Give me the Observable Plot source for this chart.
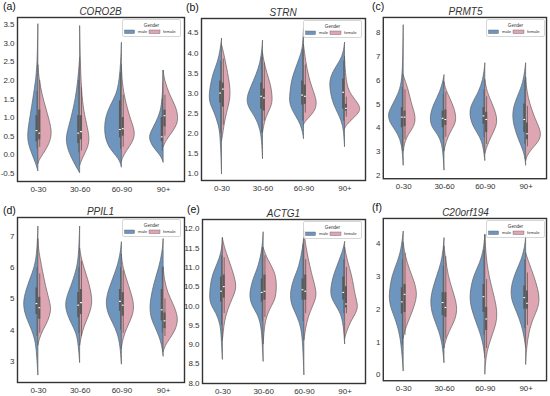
<!DOCTYPE html>
<html><head><meta charset="utf-8">
<script src="https://cdn.jsdelivr.net/npm/d3@7"></script>
<script src="https://cdn.jsdelivr.net/npm/@observablehq/plot@0.6"></script>
<style>
body{margin:0;background:#fff;font-family:"Liberation Sans",Arial,sans-serif;}
#root{position:relative;width:550px;height:396px;overflow:hidden;background:#fff;}
.panel{position:absolute;}
.tag{position:absolute;font-size:10.5px;color:#111;line-height:1;}
.title{position:absolute;font-style:italic;font-size:10px;color:#333;text-align:center;line-height:1;}
.legend{position:absolute;}
</style>
</head><body><div id="root"></div>
<script>
// ---------- data ----------
const categories = ["0-30", "30-60", "60-90", "90+"];
const genders = ["male", "female"];
const genes = ["CORO2B", "STRN", "PRMT5", "PPIL1", "ACTG1", "C20orf194"];
const panelTags = ["(a)", "(b)", "(c)", "(d)", "(e)", "(f)"];

// y tick labels per panel
const ticksA = [-0.5, 0, 0.5, 1, 1.5, 2, 2.5, 3, 3.5];
const ticksB = [1, 1.5, 2, 2.5, 3, 3.5, 4, 4.5];
const ticksC = [2, 3, 4, 5, 6, 7, 8];
const ticksD = [3, 4, 5, 6, 7];
const ticksE = [8, 8.5, 9, 9.5, 10, 10.5, 11, 11.5, 12];
const ticksF = [0, 1, 2, 3, 4];

// violin half profiles: [expression value, half width in category units], top to bottom
const coro2bMale = [
  [[3.5,0],[2.5,0.015],[2.0,0.05],[1.5,0.12],[1.0,0.19],[0.6,0.25],[0.3,0.24],[0.0,0.14],[-0.25,0.05],[-0.45,0]],
  [[2.6,0],[2.0,0.04],[1.5,0.1],[1.0,0.2],[0.6,0.3],[0.4,0.33],[0.1,0.28],[-0.2,0.15],[-0.5,0]],
  [[3.0,0],[2.5,0.015],[2.0,0.05],[1.6,0.12],[1.3,0.28],[1.0,0.38],[0.7,0.41],[0.4,0.38],[0.15,0.28],[-0.05,0.12],[-0.2,0.03],[-0.35,0]],
  [[2.25,0],[1.8,0.01],[1.4,0.03],[1.1,0.08],[0.85,0.18],[0.6,0.3],[0.45,0.34],[0.25,0.28],[0.05,0.13],[-0.1,0.03],[-0.22,0]]
];
const coro2bFemale = [
  [[2.4,0],[2.0,0.03],[1.6,0.1],[1.2,0.2],[0.8,0.3],[0.55,0.33],[0.3,0.28],[0.0,0.12],[-0.15,0.03],[-0.25,0]],
  [[3.45,0],[2.5,0.015],[1.8,0.04],[1.3,0.08],[1.0,0.13],[0.6,0.21],[0.4,0.23],[0.2,0.2],[0.0,0.11],[-0.2,0.03],[-0.3,0]],
  [[2.4,0],[1.9,0.02],[1.5,0.08],[1.0,0.2],[0.7,0.3],[0.5,0.32],[0.3,0.25],[0.1,0.12],[-0.1,0.02],[-0.2,0]],
  [[2.25,0],[2.0,0.03],[1.6,0.15],[1.3,0.3],[1.0,0.36],[0.8,0.33],[0.6,0.22],[0.4,0.08],[0.2,0]]
];
const strnMale = [
  [[4.35,0],[4.0,0.04],[3.7,0.12],[3.5,0.2],[3.25,0.26],[3.0,0.3],[2.75,0.3],[2.5,0.17],[2.2,0.08],[2.0,0.04],[1.5,0.015],[0.97,0]],
  [[4.3,0],[3.9,0.03],[3.6,0.1],[3.3,0.22],[3.0,0.35],[2.8,0.39],[2.6,0.33],[2.4,0.18],[2.1,0.06],[1.8,0.02],[1.35,0]],
  [[4.6,0],[4.2,0.02],[4.0,0.05],[3.6,0.2],[3.3,0.3],[3.0,0.33],[2.8,0.35],[2.6,0.3],[2.4,0.18],[2.2,0.07],[2.0,0.02],[1.85,0]],
  [[4.25,0],[3.9,0.04],[3.6,0.25],[3.3,0.38],[3.0,0.34],[2.8,0.3],[2.6,0.22],[2.4,0.12],[2.2,0.05],[2.0,0.02],[1.65,0]]
];
const strnFemale = [
  [[4.2,0],[4.0,0.05],[3.6,0.13],[3.2,0.2],[3.0,0.21],[2.8,0.2],[2.5,0.12],[2.2,0.06],[1.9,0.02],[1.8,0]],
  [[4.0,0],[3.8,0.03],[3.5,0.1],[3.2,0.2],[2.9,0.24],[2.7,0.23],[2.5,0.13],[2.3,0.05],[2.0,0]],
  [[4.2,0],[3.8,0.05],[3.4,0.12],[3.0,0.25],[2.8,0.32],[2.6,0.3],[2.45,0.2],[2.3,0.05],[2.2,0]],
  [[3.9,0],[3.5,0.02],[3.1,0.07],[2.9,0.2],[2.7,0.35],[2.6,0.38],[2.5,0.35],[2.35,0.2],[2.2,0.05],[2.1,0]]
];
const prmt5Male = [
  [[8.3,0],[7.0,0.01],[6.0,0.03],[5.5,0.1],[5.0,0.25],[4.7,0.34],[4.5,0.37],[4.2,0.33],[3.9,0.2],[3.5,0.07],[3.0,0.02],[2.4,0]],
  [[6.2,0],[6.0,0.02],[5.5,0.1],[5.0,0.25],[4.6,0.33],[4.3,0.34],[4.0,0.3],[3.7,0.15],[3.3,0.05],[2.8,0.02],[2.2,0]],
  [[6.7,0],[6.5,0.01],[6.0,0.05],[5.5,0.15],[5.0,0.32],[4.7,0.37],[4.4,0.36],[4.0,0.28],[3.6,0.12],[3.2,0.04],[2.6,0]],
  [[6.7,0],[6.0,0.05],[5.5,0.15],[5.0,0.28],[4.5,0.33],[4.0,0.28],[3.5,0.18],[3.0,0.05],[2.6,0.01],[2.4,0]]
];
const prmt5Female = [
  [[6.2,0],[6.0,0.04],[5.6,0.12],[5.0,0.2],[4.6,0.28],[4.3,0.3],[4.0,0.25],[3.7,0.12],[3.4,0.04],[3.0,0]],
  [[5.9,0],[5.6,0.04],[5.2,0.15],[4.8,0.25],[4.4,0.3],[4.1,0.26],[3.8,0.15],[3.4,0.05],[3.0,0]],
  [[6.0,0],[5.5,0.05],[5.0,0.18],[4.6,0.27],[4.3,0.3],[4.0,0.27],[3.6,0.15],[3.2,0.05],[2.9,0]],
  [[6.1,0],[5.5,0.03],[5.0,0.1],[4.5,0.2],[4.0,0.33],[3.7,0.38],[3.4,0.32],[3.1,0.15],[2.8,0.03],[2.6,0]]
];
const ppil1Male = [
  [[7.3,0],[6.5,0.02],[6.0,0.08],[5.6,0.2],[5.2,0.3],[4.9,0.35],[4.6,0.33],[4.3,0.25],[4.0,0.15],[3.6,0.05],[3.0,0.02],[2.55,0]],
  [[7.3,0],[6.5,0.02],[6.0,0.06],[5.5,0.18],[5.1,0.3],[4.8,0.35],[4.5,0.3],[4.2,0.2],[3.9,0.08],[3.5,0.03],[2.95,0]],
  [[6.8,0],[6.5,0.02],[6.0,0.1],[5.5,0.25],[5.1,0.35],[4.8,0.37],[4.5,0.32],[4.2,0.2],[3.9,0.1],[3.5,0.03],[2.9,0]],
  [[6.9,0],[6.5,0.02],[6.0,0.1],[5.5,0.22],[5.0,0.3],[4.7,0.32],[4.4,0.3],[4.1,0.2],[3.8,0.1],[3.5,0.03],[3.15,0]]
];
const ppil1Female = [
  [[6.9,0],[6.5,0.02],[6.1,0.08],[5.6,0.15],[5.2,0.22],[4.8,0.3],[4.6,0.31],[4.3,0.25],[4.0,0.12],[3.7,0.03],[3.5,0]],
  [[6.6,0],[6.2,0.05],[5.8,0.15],[5.4,0.24],[5.0,0.3],[4.7,0.28],[4.4,0.2],[4.1,0.1],[3.8,0.04],[3.5,0]],
  [[6.4,0],[6.0,0.03],[5.5,0.15],[5.1,0.25],[4.8,0.3],[4.5,0.28],[4.2,0.18],[3.9,0.08],[3.6,0.02],[3.4,0]],
  [[6.0,0],[5.6,0.03],[5.2,0.1],[4.8,0.25],[4.5,0.33],[4.3,0.35],[4.0,0.3],[3.7,0.15],[3.5,0.05],[3.3,0]]
];
const actg1Male = [
  [[11.75,0],[11.4,0.02],[11.1,0.12],[10.8,0.25],[10.5,0.3],[10.2,0.32],[10.0,0.28],[9.8,0.15],[9.5,0.05],[9.2,0.03],[8.6,0]],
  [[11.9,0],[11.5,0.02],[11.0,0.12],[10.7,0.25],[10.4,0.32],[10.2,0.33],[10.0,0.28],[9.8,0.15],[9.5,0.05],[9.0,0.02],[8.55,0]],
  [[11.8,0],[11.5,0.03],[11.0,0.12],[10.7,0.25],[10.4,0.33],[10.1,0.33],[9.9,0.25],[9.6,0.12],[9.3,0.05],[8.8,0.02],[8.2,0]],
  [[11.65,0],[11.4,0.05],[11.0,0.2],[10.7,0.3],[10.4,0.35],[10.2,0.33],[10.0,0.22],[9.8,0.1],[9.5,0.03],[9.0,0]]
];
const actg1Female = [
  [[11.75,0],[11.5,0.05],[11.2,0.15],[10.9,0.25],[10.6,0.33],[10.4,0.33],[10.2,0.25],[9.9,0.13],[9.6,0.05],[9.3,0.02],[9.1,0]],
  [[11.5,0],[11.2,0.1],[10.9,0.28],[10.6,0.33],[10.3,0.32],[10.1,0.27],[9.9,0.15],[9.6,0.05],[9.3,0.02],[9.0,0]],
  [[11.95,0],[11.5,0.05],[11.0,0.15],[10.7,0.22],[10.4,0.3],[10.2,0.3],[10.0,0.22],[9.7,0.1],[9.4,0.04],[9.1,0]],
  [[11.5,0],[11.1,0.08],[10.8,0.17],[10.5,0.22],[10.2,0.27],[10.0,0.33],[9.8,0.28],[9.6,0.15],[9.3,0.04],[9.15,0]]
];
const c20orf194Male = [
  [[4.35,0],[3.8,0.05],[3.4,0.15],[3.0,0.28],[2.6,0.33],[2.3,0.35],[2.0,0.3],[1.7,0.2],[1.3,0.1],[0.8,0.04],[0.1,0]],
  [[4.15,0],[3.8,0.02],[3.4,0.07],[3.0,0.18],[2.6,0.28],[2.3,0.33],[2.0,0.32],[1.7,0.25],[1.3,0.12],[0.9,0.04],[0.35,0]],
  [[4.25,0],[3.8,0.03],[3.4,0.12],[3.0,0.28],[2.6,0.35],[2.3,0.37],[2.0,0.33],[1.6,0.22],[1.2,0.1],[0.9,0.04],[0.5,0]],
  [[4.2,0],[3.9,0.02],[3.5,0.1],[3.1,0.25],[2.8,0.33],[2.5,0.37],[2.2,0.33],[1.9,0.22],[1.5,0.1],[1.1,0.03],[0.8,0]]
];
const c20orf194Female = [
  [[4.0,0],[3.6,0.05],[3.2,0.15],[2.8,0.28],[2.5,0.33],[2.3,0.32],[2.0,0.25],[1.6,0.12],[1.3,0.03],[1.1,0]],
  [[3.9,0],[3.5,0.04],[3.0,0.1],[2.6,0.2],[2.2,0.3],[1.9,0.32],[1.6,0.25],[1.3,0.12],[1.0,0.03],[0.8,0]],
  [[4.25,0],[3.8,0.02],[3.4,0.05],[3.0,0.1],[2.5,0.2],[2.1,0.28],[1.8,0.3],[1.5,0.27],[1.1,0.15],[0.7,0.05],[0.3,0.01],[0.0,0]],
  [[3.7,0],[3.4,0.08],[3.0,0.2],[2.6,0.3],[2.3,0.34],[2.0,0.3],[1.7,0.18],[1.3,0.08],[0.8,0.02],[0.3,0]]
];

// inner box stats per category: [whisker low, q1, median, q3, whisker high]
const coro2bMaleBox = [[0.15,0.35,0.65,1.05,1.7],[0.05,0.3,0.58,1.05,2.0],[0.15,0.45,0.68,1.45,2.2],[0.1,0.35,0.48,1.0,1.5]];
const coro2bFemaleBox = [[0.2,0.4,0.58,1.2,2.0],[0.1,0.4,0.62,1.05,1.8],[0.2,0.5,0.7,1.0,1.6],[0.5,0.75,1.05,1.2,1.6]];
const strnMaleBox = [[2.0,2.75,3.0,3.3,3.8],[2.0,2.6,2.92,3.25,3.9],[2.3,2.7,2.95,3.3,4.1],[2.3,2.6,3.02,3.35,3.8]];
const strnFemaleBox = [[2.2,2.65,3.1,3.25,3.85],[2.3,2.55,2.88,3.1,3.75],[2.5,2.72,2.92,3.2,3.7],[2.4,2.55,2.62,2.72,2.9]];
const prmt5MaleBox = [[3.2,4.0,4.45,4.85,5.7],[3.5,4.0,4.4,4.7,5.4],[3.6,4.15,4.5,4.85,5.6],[3.3,3.8,4.35,5.0,6.0]];
const prmt5FemaleBox = [[3.5,4.05,4.45,4.7,5.6],[3.6,4.1,4.35,4.75,5.5],[3.3,3.8,4.35,4.65,5.3],[3.2,3.5,3.75,4.2,4.9]];
const ppil1MaleBox = [[3.8,4.5,4.85,5.35,6.0],[3.9,4.4,4.8,5.2,6.0],[4.0,4.6,4.92,5.3,6.0],[3.9,4.3,4.65,5.3,6.0]];
const ppil1FemaleBox = [[3.9,4.35,4.72,5.05,5.8],[3.8,4.5,4.88,5.3,6.2],[3.9,4.45,4.8,5.2,5.9],[3.8,4.05,4.3,4.55,5.0]];
const actg1MaleBox = [[9.5,10.1,10.38,10.75,11.3],[9.6,10.1,10.35,10.7,11.5],[9.6,10.15,10.42,10.7,11.6],[9.8,10.15,10.35,10.75,11.2]];
const actg1FemaleBox = [[9.8,10.2,10.5,10.8,11.25],[9.7,10.15,10.38,10.8,11.3],[9.8,10.15,10.38,10.8,11.2],[9.8,9.95,10.05,10.5,11.0]];
const c20orf194MaleBox = [[0.9,1.85,2.22,2.65,3.5],[1.0,1.8,2.2,2.5,3.3],[1.2,1.9,2.38,2.75,3.8],[1.4,2.0,2.35,2.7,3.5]];
const c20orf194FemaleBox = [[1.2,1.9,2.45,2.75,3.7],[1.1,1.75,2.05,2.5,3.6],[0.8,1.35,1.7,2.05,2.9],[1.5,2.0,2.18,2.55,3.1]];

// ---------- styling & layout ----------
const BLUE = "#6e95bd", PINK = "#dea6b2", EDGE = "#606060", BOXC = "#5a5a5a";
const frames = [
  {L:17, T:17, R:184, B:181}, {L:201, T:18, R:365, B:180}, {L:383, T:17, R:548, B:180},
  {L:17, T:217, R:184, B:382}, {L:202, T:219, R:365, B:383}, {L:383, T:218, R:548, B:382}
];
const tagPos = [[3,1],[186,2],[372,1],[3,205],[187,204],[372,202]];
const yDomains = [[-0.72,3.69],[0.82,4.86],[1.86,8.64],[2.33,7.6],[7.99,12.24],[-0.18,4.76]];

const fmt1 = d => d.toFixed(1), fmt0 = d => d.toFixed(0);
const panels = [
  {gene: genes[0], ticks: ticksA, fmt: fmt1, male: coro2bMale, female: coro2bFemale, mBox: coro2bMaleBox, fBox: coro2bFemaleBox},
  {gene: genes[1], ticks: ticksB, fmt: fmt1, male: strnMale, female: strnFemale, mBox: strnMaleBox, fBox: strnFemaleBox},
  {gene: genes[2], ticks: ticksC, fmt: fmt0, male: prmt5Male, female: prmt5Female, mBox: prmt5MaleBox, fBox: prmt5FemaleBox},
  {gene: genes[3], ticks: ticksD, fmt: fmt0, male: ppil1Male, female: ppil1Female, mBox: ppil1MaleBox, fBox: ppil1FemaleBox},
  {gene: genes[4], ticks: ticksE, fmt: fmt1, male: actg1Male, female: actg1Female, mBox: actg1MaleBox, fBox: actg1FemaleBox},
  {gene: genes[5], ticks: ticksF, fmt: fmt0, male: c20orf194Male, female: c20orf194Female, mBox: c20orf194MaleBox, fBox: c20orf194FemaleBox}
];

const root = document.getElementById("root");
const ML = 20, MR = 4, MT = 4, MB = 15;

panels.forEach((p, k) => {
  const f = frames[k];
  const marks = [];
  // violin halves
  p.male.forEach((prof, i) => {
    marks.push(Plot.areaX(prof, {y: d => d[0], x1: d => i - d[1], x2: () => i, fill: BLUE, stroke: EDGE, strokeWidth: 0.7, curve: "basis"}));
  });
  p.female.forEach((prof, i) => {
    marks.push(Plot.areaX(prof, {y: d => d[0], x1: () => i, x2: d => i + d[1], fill: PINK, stroke: EDGE, strokeWidth: 0.7, curve: "basis"}));
  });
  // inner boxes
  [[p.mBox, -1], [p.fBox, 1]].forEach(([boxes, s]) => {
    const rows = boxes.map((b, i) => ({i, lo: b[0], q1: b[1], med: b[2], q3: b[3], hi: b[4]}));
    const a = d => d.i + s * 0.006, b = d => d.i + s * 0.058, c = d => d.i + s * 0.032;
    marks.push(Plot.ruleX(rows, {x: c, y1: "lo", y2: "hi", stroke: BOXC, strokeWidth: 0.8}));
    marks.push(Plot.rect(rows, {x1: d => Math.min(a(d), b(d)), x2: d => Math.max(a(d), b(d)), y1: "q1", y2: "q3", fill: BOXC}));
    marks.push(Plot.ruleY(rows, {y: "med", x1: d => d.i + s * 0.012, x2: d => d.i + s * 0.056, stroke: "#fff", strokeWidth: 1.1}));
  });
  marks.push(Plot.axisY(p.ticks, {tickSize: 0, tickPadding: 3, tickFormat: p.fmt, label: null, fontSize: 8}));
  marks.push(Plot.axisX([0, 1, 2, 3], {tickSize: 0, tickPadding: 5, tickFormat: i => categories[i], label: null, fontSize: 8}));
  marks.push(Plot.frame({stroke: "#333", strokeWidth: 1.4}));

  const W = (f.R - f.L) + ML + MR, H = (f.B - f.T) + MT + MB;
  const chart = Plot.plot({
    width: W, height: H, marginLeft: ML, marginRight: MR, marginTop: MT, marginBottom: MB,
    x: {domain: [-0.5, 3.5]},
    y: {domain: yDomains[k]},
    style: {fontFamily: '"Liberation Sans", Arial, sans-serif', color: "#333", background: "transparent", overflow: "visible"},
    marks
  });
  const wrap = document.createElement("div");
  wrap.className = "panel";
  wrap.style.left = (f.L - ML) + "px";
  wrap.style.top = (f.T - MT) + "px";
  wrap.appendChild(chart);
  root.appendChild(wrap);

  // title
  const t = document.createElement("div");
  t.className = "title";
  t.textContent = p.gene;
  t.style.left = f.L + "px";
  t.style.width = (f.R - f.L) + "px";
  t.style.top = (f.T - 10) + "px";
  root.appendChild(t);

  // panel tag
  const g = document.createElement("div");
  g.className = "tag";
  g.textContent = panelTags[k];
  g.style.left = tagPos[k][0] + "px";
  g.style.top = tagPos[k][1] + "px";
  root.appendChild(g);

  // legend
  const lw = 59, lh = 18;
  const lg = document.createElement("div");
  lg.className = "legend";
  lg.style.left = (f.R - 3 - lw) + "px";
  lg.style.top = (f.T + 2) + "px";
  lg.innerHTML = `<svg width="${lw}" height="${lh}" style="font-family:'Liberation Sans',Arial,sans-serif">
    <rect x="0.5" y="0.5" width="${lw-1}" height="${lh-1}" rx="1.5" fill="#fff" fill-opacity="0.85" stroke="#ccc" stroke-width="0.8"/>
    <text x="${lw/2}" y="7.5" font-size="4.6" fill="#333" text-anchor="middle">Gender</text>
    <rect x="2.5" y="11" width="10" height="3.6" fill="${BLUE}" stroke="${EDGE}" stroke-width="0.4"/>
    <text x="16" y="14.2" font-size="4.2" fill="#333">${genders[0]}</text>
    <rect x="27" y="11" width="11" height="3.6" fill="${PINK}" stroke="${EDGE}" stroke-width="0.4"/>
    <text x="41" y="14.2" font-size="4.2" fill="#333">${genders[1]}</text>
  </svg>`;
  root.appendChild(lg);
});
</script>
</body></html>
